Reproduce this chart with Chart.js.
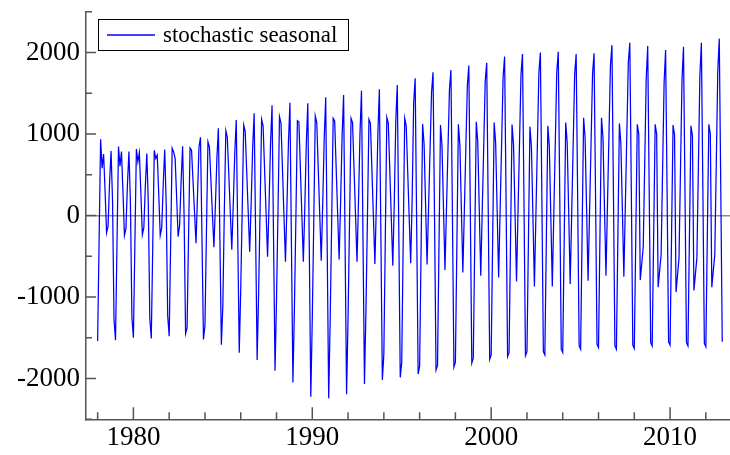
<!DOCTYPE html>
<html lang="en">
<head>
<meta charset="UTF-8">
<title>Stochastic seasonal</title>
<script src="https://cdn.jsdelivr.net/npm/chart.js"></script>
<style>
    html, body { margin: 0; padding: 0; background: #fff; }
    #chart { display: block; }
</style>
</head>
<body>
<canvas id="chart" width="730" height="455"></canvas>
<script>
// monthly seasonal component, Jan 1978 .. Dec 2012 (one row per year)
const startYear = 1978;
const seasonal = [
    -1540, -300, 935, 580, 755, 300, -210, -130, 400, 790, 180, -1280,      // 1978
    -1530, -340, 845, 605, 785, 290, -245, -160, 380, 785, 160, -1250,      // 1979
    -1500, -340, 815, 660, 770, 280, -235, -150, 360, 760, 140, -1260,      // 1980
    -1510, -350, 800, 700, 740, 260, -245, -150, 380, 810, 140, -1230,      // 1981
    -1480, -330, 826, 780, 700, 220, -260, -120, 420, 850, 0, -1450,        // 1982
    -1380, -250, 828, 800, 420, 40, -340, 250, 840, 960, -280, -1520,       // 1983
    -1350, -200, 905, 840, 430, 20, -390, 120, 700, 1070, -260, -1585,      // 1984
    -1100, 60, 1040, 960, 500, 40, -420, 140, 770, 1172, -256, -1683,       // 1985
    -900, 80, 1110, 1030, 540, 50, -444, 150, 830, 1254, -260, -1773,       // 1986
    -950, 90, 1180, 1100, 565, 30, -505, 145, 890, 1352, -276, -1904,       // 1987
    -1030, 60, 1213, 1133, 566, 0, -567, 116, 896, 1384, -333, -2050,       // 1988
    -1150, -25, 1164, 1150, 578, 6, -567, 113, 890, 1376, -425, -2225,      // 1989
    -1260, -54, 1221, 1140, 575, 10, -555, 147, 949, 1450, -397, -2243,     // 1990
    -1281, -79, 1192, 1160, 593, 27, -540, 166, 974, 1478, -358, -2194,     // 1991
    -1246, -61, 1192, 1140, 571, 2, -567, 168, 1007, 1532, -268, -2067,     // 1992
    -1158, -21, 1180, 1130, 555, -20, -595, 155, 1012, 1548, -235, -2018,   // 1993
    -1700, -250, 1204, 1130, 548, -34, -616, 160, 1150, 1601, -140, -1986,  // 1994
    -1800, -300, 1192, 1100, 540, -25, -587, 210, 1380, 1683, -80, -1945,   // 1995
    -1850, -380, 1123, 870, 135, -600, 100, 810, 1510, 1757, -20, -1896,    // 1996
    -1840, -360, 1110, 860, 100, -670, 70, 800, 1540, 1785, 10, -1860,      // 1997
    -1800, -340, 1120, 870, 90, -700, 60, 830, 1590, 1840, 65, -1810,       // 1998
    -1750, -300, 1150, 900, 80, -740, 60, 850, 1650, 1875, 105, -1765,      // 1999
    -1710, -285, 1140, 890, 65, -760, 60, 880, 1700, 1950, 160, -1730,      // 2000
    -1680, -280, 1115, 865, 30, -810, 40, 880, 1730, 1980, 180, -1720,      // 2001
    -1670, -290, 1090, 840, -10, -870, 0, 880, 1750, 2000, 220, -1670,      // 2002
    -1710, -300, 1100, 850, -10, -870, 10, 880, 1760, 2010, 240, -1640,     // 2003
    -1680, -270, 1140, 890, 30, -840, 20, 870, 1730, 1980, 240, -1600,      // 2004
    -1640, -220, 1200, 950, 80, -800, 50, 890, 1740, 1990, 260, -1580,      // 2005
    -1620, -210, 1200, 950, 100, -740, 120, 980, 1840, 2090, 300, -1600,    // 2006
    -1640, -250, 1130, 880, 70, -750, 130, 1000, 1880, 2120, 320, -1590,    // 2007
    -1630, -260, 1120, 1000, -790, -590, -390, 640, 1680, 2080, 310, -1560, // 2008
    -1600, -240, 1120, 1000, -880, -680, -480, 580, 1630, 2030, 290, -1550, // 2009
    -1590, -240, 1110, 990, -940, -730, -520, 570, 1660, 2070, 300, -1560,  // 2010
    -1600, -250, 1100, 980, -920, -720, -520, 600, 1720, 2120, 320, -1570,  // 2011
    -1610, -250, 1120, 1000, -880, -680, -480, 640, 1770, 2170, 360, -1550  // 2012
];

// axis ticks: marks every 2 years / 500, labels every 10 years / 1000
const xTickYears = [1978, 1980, 1982, 1984, 1986, 1988, 1990, 1992, 1994, 1996, 1998,
                    2000, 2002, 2004, 2006, 2008, 2010, 2012];
const xLabelYears = [1980, 1990, 2000, 2010];
const yTickValues = [-2500, -2000, -1500, -1000, -500, 0, 500, 1000, 1500, 2000, 2500];
const yLabelValues = [-2000, -1000, 0, 1000, 2000];

const axisColor = '#555555';
const lineColor = '#0000ff';
const serif = "'Liberation Serif', 'Times New Roman', serif";

const points = seasonal.map((v, i) => ({ x: startYear + i / 12, y: v }));

// inward tick marks, long ones where a label sits
const tickMarks = {
    id: 'tickMarks',
    beforeDatasetsDraw(chart) {
        const { ctx, chartArea, scales: { x, y } } = chart;
        ctx.save();
        ctx.strokeStyle = axisColor;
        ctx.lineWidth = 1.5;
        ctx.beginPath();
        xTickYears.forEach(v => {
            const px = x.getPixelForValue(v);
            const len = xLabelYears.includes(v) ? 12 : 7;
            ctx.moveTo(px, chartArea.bottom);
            ctx.lineTo(px, chartArea.bottom - len);
        });
        yTickValues.forEach(v => {
            const py = y.getPixelForValue(v);
            const len = yLabelValues.includes(v) ? 10 : 6;
            ctx.moveTo(chartArea.left, py);
            ctx.lineTo(chartArea.left + len, py);
        });
        ctx.stroke();
        ctx.restore();
    }
};

// boxed legend in the top left corner
const boxLegend = {
    id: 'boxLegend',
    afterDraw(chart) {
        const ctx = chart.ctx;
        const ds = chart.data.datasets[0];
        ctx.save();
        ctx.fillStyle = '#fff';
        ctx.fillRect(98.5, 19.5, 250, 31);
        ctx.strokeStyle = '#000';
        ctx.lineWidth = 1;
        ctx.strokeRect(98.5, 19.5, 250, 31);
        ctx.strokeStyle = lineColor;
        ctx.lineWidth = 1.3;
        ctx.beginPath();
        ctx.moveTo(107, 35);
        ctx.lineTo(155, 35);
        ctx.stroke();
        ctx.fillStyle = '#000';
        ctx.font = '23px ' + serif;
        ctx.textBaseline = 'middle';
        ctx.fillText(ds.label, 163, 36);
        ctx.restore();
    }
};

new Chart(document.getElementById('chart'), {
    type: 'line',
    data: {
        datasets: [{
            label: 'stochastic seasonal',
            data: points,
            borderColor: lineColor,
            borderWidth: 1.25,
            pointRadius: 0,
            tension: 0,
            fill: false
        }]
    },
    options: {
        responsive: false,
        devicePixelRatio: 1,
        animation: false,
        layout: { padding: { top: 11.75, right: 0, left: 0, bottom: 0 } },
        plugins: {
            legend: { display: false },
            tooltip: { enabled: false }
        },
        scales: {
            x: {
                type: 'linear',
                min: 1977.35,
                max: 2013.35,
                afterBuildTicks: s => { s.ticks = xTickYears.map(v => ({ value: v })); },
                afterFit: s => { s.height = 35.75; s.paddingLeft = 0; s.paddingRight = 0; },
                grid: { display: true, color: 'transparent', drawTicks: false },
                border: { display: true, color: axisColor, width: 1.5 },
                ticks: {
                    autoSkip: false,
                    maxRotation: 0,
                    padding: 2,
                    color: '#000',
                    font: { family: serif, size: 27 },
                    callback: v => xLabelYears.includes(v) ? String(v) : ''
                }
            },
            y: {
                min: -2500,
                max: 2500,
                afterBuildTicks: s => { s.ticks = yTickValues.map(v => ({ value: v })); },
                afterFit: s => { s.width = 86; s.paddingTop = 0; s.paddingBottom = 0; },
                grid: {
                    display: true,
                    drawTicks: false,
                    lineWidth: 1.5,
                    color: c => c.tick && c.tick.value === 0 ? '#8c8c8c' : 'transparent'
                },
                border: { display: true, color: axisColor, width: 1.5 },
                ticks: {
                    autoSkip: false,
                    padding: 6,
                    color: '#000',
                    font: { family: serif, size: 27 },
                    callback: v => yLabelValues.includes(v) ? String(v) : ''
                }
            }
        }
    },
    plugins: [tickMarks, boxLegend]
});
</script>
</body>
</html>
